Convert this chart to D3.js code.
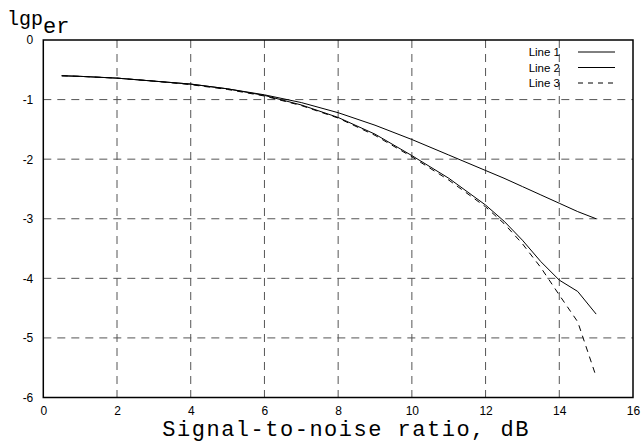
<!DOCTYPE html>
<html>
<head>
<meta charset="utf-8">
<script src="https://cdn.jsdelivr.net/npm/d3@7"></script>
<style>
  body { margin: 0; background: #fff; }
  svg { display: block; }
  .tick text { font-family: "Liberation Sans", Arial, sans-serif; font-size: 12px; fill: #000; }
</style>
</head>
<body>
<div id="graphic"></div>
<script>
// signal-to-noise ratio, dB
var snr = [0.5, 1, 2, 3, 4, 5, 6, 7, 8, 9, 10, 11, 12, 12.5, 13, 13.5, 14, 14.5, 15];
var line1 = [-0.6, -0.61, -0.64, -0.69, -0.74, -0.82, -0.92, -1.05, -1.22, -1.43, -1.67, -1.93, -2.19, -2.32, -2.46, -2.6, -2.74, -2.88, -3.0];
var line2 = [-0.6, -0.61, -0.64, -0.69, -0.74, -0.82, -0.93, -1.09, -1.3, -1.58, -1.94, -2.32, -2.77, -3.04, -3.36, -3.72, -4.03, -4.22, -4.6];
var line3 = [-0.6, -0.61, -0.64, -0.69, -0.75, -0.83, -0.94, -1.1, -1.31, -1.6, -1.96, -2.35, -2.8, -3.08, -3.42, -3.82, -4.28, -4.73, -5.65];
var seriesNames = ["Line 1", "Line 2", "Line 3"];
var xTicks = [0, 2, 4, 6, 8, 10, 12, 14, 16];
var yTicks = [0, -1, -2, -3, -4, -5, -6];

var W = 644, H = 443;
var margin = { top: 40, right: 11, bottom: 45.5, left: 43.3 },
    width = W - margin.left - margin.right,
    height = H - margin.top - margin.bottom;

var x = d3.scaleLinear().domain([0, 16]).range([0, width]);
var y = d3.scaleLinear().domain([-6, 0]).range([height, 0]);

var svg = d3.select("#graphic").append("svg")
    .attr("width", W)
    .attr("height", H)
    .append("g")
    .attr("transform", "translate(" + margin.left + "," + margin.top + ")");

// dashed grid
svg.append("g")
    .selectAll("line")
    .data(xTicks.slice(1, -1))
    .enter().append("line")
    .attr("x1", function(d) { return x(d); })
    .attr("x2", function(d) { return x(d); })
    .attr("y1", 0)
    .attr("y2", height)
    .attr("stroke", "#555")
    .attr("stroke-dasharray", "8,6");
svg.append("g")
    .selectAll("line")
    .data(yTicks.slice(1, -1))
    .enter().append("line")
    .attr("x1", 0)
    .attr("x2", width)
    .attr("y1", function(d) { return y(d); })
    .attr("y2", function(d) { return y(d); })
    .attr("stroke", "#555")
    .attr("stroke-dasharray", "8,6");

// axes (labels only, frame drawn separately)
var fmt = function(d) { return String(d); }; // plain hyphen minus like the original
var xAxis = svg.append("g")
    .attr("transform", "translate(0," + height + ")")
    .call(d3.axisBottom(x).tickValues(xTicks).tickFormat(fmt).tickSize(0).tickPadding(9));
xAxis.select(".domain").remove();

var yAxis = svg.append("g")
    .call(d3.axisLeft(y).tickValues(yTicks).tickFormat(fmt).tickSize(0).tickPadding(10));
yAxis.select(".domain").remove();

// frame
svg.append("rect")
    .attr("width", width)
    .attr("height", height)
    .attr("fill", "none")
    .attr("stroke", "#000")
    .attr("stroke-width", 1.5);

// curves
var lineGen = d3.line()
    .x(function(d, i) { return x(snr[i]); })
    .y(function(d) { return y(d); });

var dashes = [null, null, "6,5"];
[line1, line2, line3].forEach(function(s, k) {
    svg.append("path")
        .datum(s)
        .attr("d", lineGen)
        .attr("fill", "none")
        .attr("stroke", "#000")
        .attr("stroke-width", 1)
        .attr("stroke-dasharray", dashes[k]);
});

// legend
var legend = svg.append("g").attr("transform", "translate(" + (width - 147) + ",12)");
seriesNames.forEach(function(name, k) {
    var row = legend.append("g").attr("transform", "translate(0," + (k * 15.5) + ")");
    row.append("text")
        .attr("x", 74)
        .attr("y", 0)
        .attr("dy", "0.35em")
        .attr("text-anchor", "end")
        .style("font-family", "Liberation Sans, Arial, sans-serif")
        .style("font-size", "11.5px")
        .text(name);
    row.append("line")
        .attr("x1", 92)
        .attr("x2", 129)
        .attr("stroke", "#000")
        .attr("stroke-dasharray", dashes[k] ? "5,5" : null);
});

// axis titles
d3.select("svg").append("text")
    .attr("x", (margin.left + margin.left + width) / 2 + 8)
    .attr("y", 436)
    .attr("text-anchor", "middle")
    .style("font-family", "Liberation Mono, Courier New, monospace")
    .style("font-size", "22px")
    .style("letter-spacing", "1.5px")
    .text("Signal-to-noise ratio, dB");

var yt = d3.select("svg").append("text")
    .attr("x", 7)
    .attr("y", 25)
    .style("font-family", "Liberation Mono, Courier New, monospace")
    .style("font-size", "20px");
yt.append("tspan").text("lgp");
yt.append("tspan").attr("dy", 8).style("font-size", "22px").text("er");
</script>
</body>
</html>
